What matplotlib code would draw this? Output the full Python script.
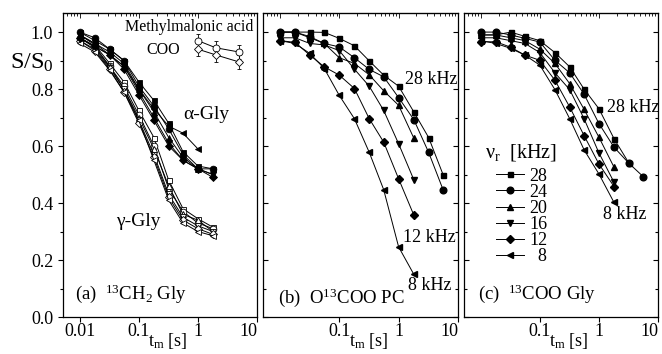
import matplotlib
matplotlib.use("Agg")
import matplotlib.pyplot as plt
from matplotlib.lines import Line2D
from matplotlib.ticker import LogLocator, NullFormatter, FixedLocator, MultipleLocator, FormatStrFormatter

plt.rcParams['font.family'] = ['Liberation Serif', 'DejaVu Serif']
plt.rcParams['mathtext.fontset'] = 'custom'
plt.rcParams['mathtext.rm'] = 'Liberation Serif'
plt.rcParams['mathtext.it'] = 'Liberation Serif:italic'

# ---------------- data ----------------
rates = ["28", "24", "20", "16", "12", "  8"]
t_a = [0.01, 0.018, 0.032, 0.056, 0.1, 0.18, 0.32, 0.56, 1.0, 1.8]
t_bc = [0.01, 0.018, 0.032, 0.056, 0.1, 0.18, 0.32, 0.56, 1.0, 1.8, 3.2, 5.6]

# panel (a) alpha-Gly (filled)
a_alpha_28 = [1.00, 0.97, 0.94, 0.90, 0.825, 0.76, 0.68, 0.58, 0.53, 0.52]
a_alpha_24 = [1.00, 0.98, 0.94, 0.90, 0.81, 0.74, 0.66, 0.57, 0.52, 0.52]
a_alpha_20 = [0.99, 0.96, 0.93, 0.89, 0.80, 0.72, 0.63, 0.56, 0.52, 0.50]
a_alpha_16 = [0.99, 0.96, 0.92, 0.88, 0.79, 0.70, 0.61, 0.55, 0.52, 0.50]
a_alpha_12 = [0.98, 0.95, 0.92, 0.87, 0.78, 0.69, 0.60, 0.55, 0.52, 0.49]
a_alpha_8 = [0.98, 0.95, 0.92, 0.88, 0.80, 0.73, 0.67, 0.645, 0.59]
# panel (a) gamma-Gly (open)
a_gamma_28 = [0.99, 0.955, 0.89, 0.825, 0.725, 0.63, 0.48, 0.38, 0.345, 0.315]
a_gamma_24 = [0.98, 0.95, 0.88, 0.81, 0.71, 0.60, 0.45, 0.37, 0.33, 0.31]
a_gamma_20 = [0.98, 0.945, 0.88, 0.80, 0.70, 0.59, 0.46, 0.36, 0.34, 0.30]
a_gamma_16 = [0.97, 0.94, 0.875, 0.80, 0.69, 0.57, 0.43, 0.35, 0.32, 0.30]
a_gamma_12 = [0.97, 0.935, 0.87, 0.79, 0.68, 0.56, 0.42, 0.34, 0.31, 0.29]
a_gamma_8 = [0.96, 0.93, 0.866, 0.79, 0.69, 0.55, 0.41, 0.33, 0.30, 0.285]
# methylmalonic acid COO
t_mma = [1.0, 2.0, 5.0]
mma_1 = [0.97, 0.945, 0.93]
mma_2 = [0.94, 0.92, 0.895]
mma_err = [0.025, 0.025, 0.025]

# panel (b) O13COO PC
b_28 = [1.00, 1.00, 1.00, 0.999, 0.978, 0.952, 0.899, 0.849, 0.81, 0.72, 0.63, 0.50]
b_24 = [1.00, 1.00, 0.984, 0.96, 0.948, 0.91, 0.869, 0.843, 0.77, 0.693, 0.578, 0.447]
b_20 = [1.00, 1.00, 0.98, 0.96, 0.91, 0.89, 0.85, 0.794, 0.743, 0.628]
b_16 = [0.98, 0.98, 0.96, 0.955, 0.935, 0.87, 0.81, 0.725, 0.608, 0.482]
b_12 = [0.97, 0.964, 0.919, 0.878, 0.849, 0.802, 0.696, 0.614, 0.485, 0.358]
b_8 = [0.97, 0.96, 0.925, 0.872, 0.778, 0.696, 0.578, 0.447, 0.246, 0.15]

# panel (c) 13COO Gly
c_28 = [0.99, 0.99, 1.00, 0.985, 0.97, 0.928, 0.878, 0.80, 0.731, 0.626, 0.541]
c_24 = [1.00, 1.00, 0.99, 0.978, 0.965, 0.901, 0.857, 0.782, 0.679, 0.596, 0.54, 0.493]
c_20 = [0.99, 0.99, 0.98, 0.97, 0.94, 0.89, 0.819, 0.729, 0.631, 0.526]
c_16 = [0.98, 0.98, 0.97, 0.96, 0.928, 0.857, 0.798, 0.696, 0.576, 0.473]
c_12 = [0.966, 0.966, 0.947, 0.919, 0.901, 0.831, 0.737, 0.637, 0.537, 0.458]
c_8 = [0.97, 0.96, 0.943, 0.919, 0.884, 0.798, 0.696, 0.587, 0.502, 0.402]

markers = ['s', 'o', '^', 'v', 'D', '<']
msizes = [3.6, 4.8, 4.4, 4.4, 3.8, 4.6]

# ---------------- figure ----------------
fig = plt.figure(figsize=(6.62, 3.54), dpi=100)
W, H = 662, 354
bottom_px, top_px = 317, 13
lefts = [63, 263, 464]
widths = [194, 195, 194]
axes = []
for l, w in zip(lefts, widths):
    ax = fig.add_axes([l / W, 1 - bottom_px / H, w / W, (bottom_px - top_px) / H])
    axes.append(ax)

XL = (0.0052, 10.0)
for i, ax in enumerate(axes):
    ax.set_xscale('log')
    ax.set_xlim(*XL)
    ax.set_ylim(0.0, 1.067)
    ticks = [0.01, 0.1, 1, 10] if i == 0 else [0.1, 1, 10]
    labels = ['0.01', '0.1', '1', '10'] if i == 0 else ['0.1', '1', '10']
    ax.xaxis.set_major_locator(FixedLocator(ticks))
    ax.xaxis.set_minor_locator(LogLocator(base=10, subs=range(2, 10)))
    ax.xaxis.set_minor_formatter(NullFormatter())
    ax.set_xticklabels(labels)
    ax.get_xticklabels()[-1].set_horizontalalignment('right')
    ax.yaxis.set_major_locator(MultipleLocator(0.2))
    ax.yaxis.set_minor_locator(MultipleLocator(0.1))
    ax.tick_params(axis='x', which='major', direction='out', length=3.5, width=0.8, labelsize=13, pad=1)
    ax.tick_params(axis='x', which='minor', direction='out', length=2, width=0.6)
    ax.tick_params(axis='y', which='both', direction='in', right=True, width=0.8)
    ax.tick_params(axis='y', which='major', length=3.5)
    ax.tick_params(axis='y', which='minor', length=2)
    if i == 0:
        ax.tick_params(axis='y', which='both', left=True, labelsize=13)
        ax.yaxis.set_major_formatter(FormatStrFormatter('%.1f'))
    else:
        ax.tick_params(axis='y', labelleft=False)
    sec = ax.secondary_xaxis('top')
    sec.xaxis.set_major_locator(FixedLocator([0.01, 0.1, 1, 10]))
    sec.xaxis.set_minor_locator(LogLocator(base=10, subs=range(2, 10)))
    sec.tick_params(axis='x', which='both', direction='in', labeltop=False, width=0.6)
    sec.tick_params(axis='x', which='major', length=3.5)
    sec.tick_params(axis='x', which='minor', length=2)
    sec.xaxis.set_minor_formatter(NullFormatter())
    sec.xaxis.set_major_formatter(NullFormatter())
    for s in ax.spines.values():
        s.set_linewidth(0.9)
    ax.set_xlabel(r'$\mathregular{t_m}$ [s]', fontsize=13)
    ax.xaxis.set_label_coords(0.54, -0.045)

axes[0].tick_params(axis='y', which='both', direction='out')
axes[0].tick_params(axis='y', which='both', right=False)

lw = 0.7

# panel a
ax = axes[0]
alpha_sets = [a_alpha_28, a_alpha_24, a_alpha_20, a_alpha_16, a_alpha_12, a_alpha_8]
gamma_sets = [a_gamma_28, a_gamma_24, a_gamma_20, a_gamma_16, a_gamma_12, a_gamma_8]
for m, ms, ys in zip(markers, msizes, gamma_sets):
    ax.plot(t_a[:len(ys)], ys, color='black', lw=lw, marker=m, ms=ms, mfc='white', mec='black', mew=0.6)
for m, ms, ys in zip(markers, msizes, alpha_sets):
    ax.plot(t_a[:len(ys)], ys, color='black', lw=lw, marker=m, ms=ms, mfc='black', mec='black', mew=0.6)
ax.errorbar(t_mma, mma_1, yerr=mma_err, color='black', lw=lw, marker='o', ms=5, mfc='white',
            mec='black', mew=0.6, capsize=1.5, elinewidth=0.6)
ax.errorbar(t_mma, mma_2, yerr=mma_err, color='black', lw=lw, marker='D', ms=4, mfc='white',
            mec='black', mew=0.6, capsize=1.5, elinewidth=0.6)
ax.text(0.32, 0.955, 'Methylmalonic acid', transform=ax.transAxes, fontsize=11.5, va='center', ha='left')
ax.text(0.515, 0.878, 'COO', transform=ax.transAxes, fontsize=11.5, va='center', ha='center')
ax.text(0.74, 0.665, 'α-Gly', transform=ax.transAxes, fontsize=14, va='center', ha='center')
ax.text(0.39, 0.315, 'γ-Gly', transform=ax.transAxes, fontsize=14, va='center', ha='center')
ax.text(0.062, 0.077, r'(a)  $^{13}$CH$_2$ Gly', transform=ax.transAxes, fontsize=13.5, va='center', ha='left')

# panel b
ax = axes[1]
b_sets = [b_28, b_24, b_20, b_16, b_12, b_8]
for m, ms, ys in zip(markers, msizes, b_sets):
    ax.plot(t_bc[:len(ys)], ys, color='black', lw=lw, marker=m, ms=ms, mfc='black', mec='black')
ax.text(0.728, 0.78, '28 kHz', transform=ax.transAxes, fontsize=13, va='center', ha='left')
ax.text(0.718, 0.262, '12 kHz', transform=ax.transAxes, fontsize=13, va='center', ha='left')
ax.text(0.744, 0.105, '8 kHz', transform=ax.transAxes, fontsize=13, va='center', ha='left')
ax.text(0.075, 0.062, r'(b)  O$^{13}$COO PC', transform=ax.transAxes, fontsize=13.5, va='center', ha='left')

# panel c
ax = axes[2]
c_sets = [c_28, c_24, c_20, c_16, c_12, c_8]
for m, ms, ys in zip(markers, msizes, c_sets):
    ax.plot(t_bc[:len(ys)], ys, color='black', lw=lw, marker=m, ms=ms, mfc='black', mec='black')
ax.text(0.737, 0.688, '28 kHz', transform=ax.transAxes, fontsize=13, va='center', ha='left')
ax.text(0.716, 0.336, '8 kHz', transform=ax.transAxes, fontsize=13, va='center', ha='left')
ax.text(0.072, 0.077, r'(c)  $^{13}$COO Gly', transform=ax.transAxes, fontsize=13.5, va='center', ha='left')

ax.text(0.108, 0.54, r'$\mathregular{\nu_r}$  [kHz]', transform=ax.transAxes, fontsize=14.5,
        va='center', ha='left')
handles = [Line2D([], [], color='black', lw=lw, marker=m, ms=ms, mfc='black', mec='black')
           for m, ms in zip(markers, msizes)]
ax.legend(handles, rates, loc='upper left', bbox_to_anchor=(0.155, 0.497), frameon=False,
          fontsize=13, labelspacing=-0.05, handlelength=1.55, handletextpad=0.3,
          borderaxespad=0, borderpad=0.1)

fig.text(10 / W, 1 - 63 / H, r'S/S$_0$', fontsize=17.5, ha='left', va='center')

fig.savefig('out.png', dpi=100)
